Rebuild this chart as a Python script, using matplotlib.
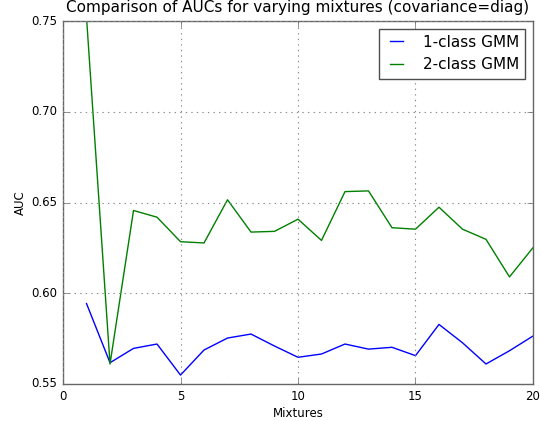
import matplotlib
matplotlib.use("Agg")
import matplotlib.pyplot as plt

mixtures = list(range(1, 21))
auc_1class = [0.5943, 0.5617, 0.5696, 0.5720, 0.5549, 0.5687, 0.5753, 0.5775, 0.5709, 0.5647,
              0.5665, 0.5720, 0.5692, 0.5702, 0.5656, 0.5828, 0.5727, 0.5610, 0.5683, 0.5764]
auc_2class = [0.752, 0.5610, 0.6456, 0.6419, 0.6284, 0.6277, 0.6515, 0.6337, 0.6341, 0.6408,
              0.6291, 0.6560, 0.6564, 0.6361, 0.6353, 0.6474, 0.6353, 0.6297, 0.6090, 0.6251]

plt.style.use("classic")
fig = plt.figure(figsize=(5.4, 4.21), dpi=100)
fig.patch.set_facecolor("white")
ax = fig.add_subplot(111)
fig.subplots_adjust(left=0.1167, right=0.987, top=0.950, bottom=0.088)

ax.plot(mixtures, auc_1class, "b-", label="1-class GMM")
ax.plot(mixtures, auc_2class, "g-", label="2-class GMM")
ax.set_xlim(0, 20)
ax.set_ylim(0.55, 0.75)
ax.set_xticks([0, 5, 10, 15, 20])
ax.set_yticks([0.55, 0.60, 0.65, 0.70, 0.75])
ax.tick_params(labelsize=8.5, pad=4, color="0.4")
for s in ax.spines.values():
    s.set_color("0.4")
ax.set_xlabel("Mixtures", fontsize=8.5, labelpad=3)
ax.set_ylabel("AUC", fontsize=8.5, labelpad=3)
ax.set_title("Comparison of AUCs for varying mixtures (covariance=diag)", fontsize=11, y=1.005)
ax.grid(True, color="0.55", linestyle=":", linewidth=0.8)
leg = ax.legend(loc="upper right", fontsize=11, handlelength=1.45, handletextpad=1.0,
                borderaxespad=0.5)
leg.get_frame().set_edgecolor("0.3")

plt.savefig("out.png", dpi=100)
